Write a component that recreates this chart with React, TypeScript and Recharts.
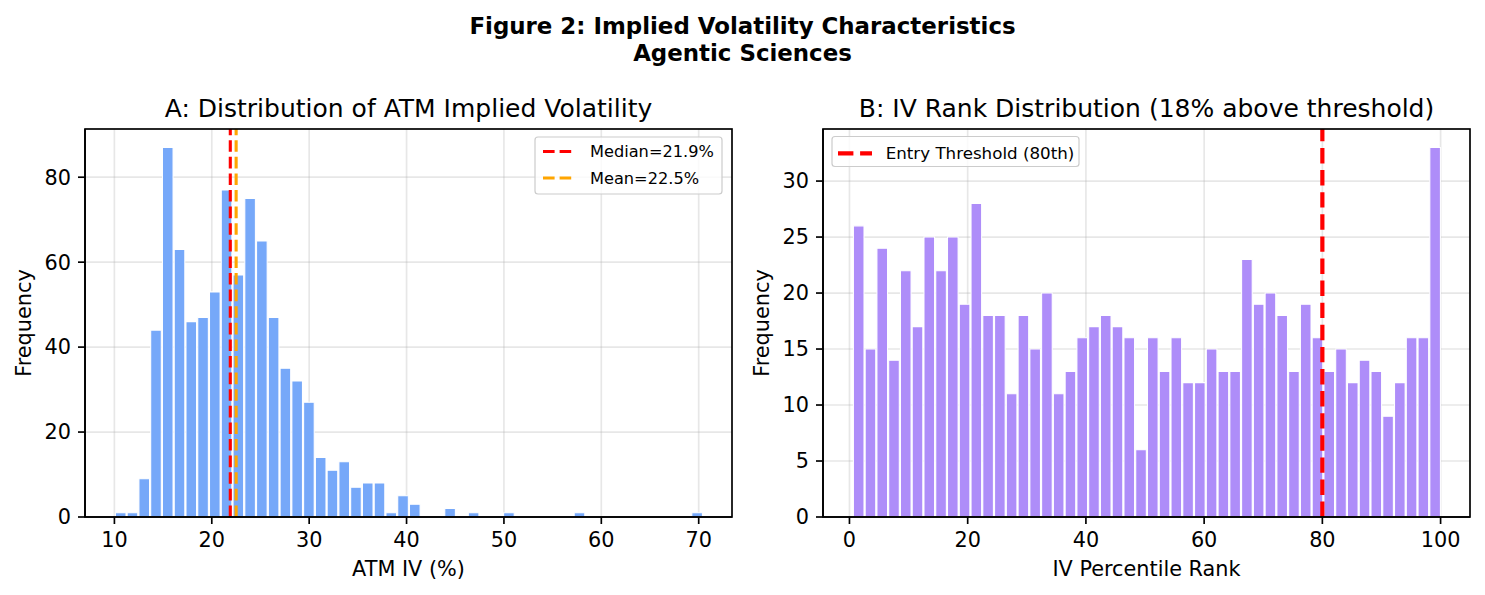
import React from 'react';
import { ComposedChart, Bar, XAxis, YAxis, CartesianGrid, ReferenceLine } from 'recharts';

// ---------- Panel A: ATM implied volatility histogram ----------
const ivBinStart = 10.0;
const ivBinWidth = 1.208;
const ivBinCounts = [
  1, 1, 9, 44, 87, 63, 46, 47, 53, 77,
  57, 75, 65, 47, 35, 32, 27, 14, 11, 13,
  7, 8, 8, 1, 5, 3, 0, 0, 2, 0,
  1, 0, 0, 1, 0, 0, 0, 0, 0, 1,
  0, 0, 0, 0, 0, 0, 0, 0, 0, 1,
];
const ivMedian = 21.9;
const ivMean = 22.5;
const ivXTicks = [10, 20, 30, 40, 50, 60, 70];
const ivYTicks = [0, 20, 40, 60, 80];
const ivXDomain: [number, number] = [6.98, 73.42];
const ivYDomain: [number, number] = [0, 91.35];

// ---------- Panel B: IV percentile rank histogram ----------
const rankBinStart = 0.5;
const rankBinWidth = 1.99;
const rankBinCounts = [
  26, 15, 24, 14, 22, 17, 25, 22, 25, 19,
  28, 18, 18, 11, 18, 15, 20, 11, 13, 16,
  17, 18, 17, 16, 6, 16, 13, 16, 12, 12,
  15, 13, 13, 23, 19, 20, 18, 13, 19, 16,
  13, 15, 12, 14, 13, 9, 12, 16, 16, 33,
];
const rankThreshold = 80;
const rankXTicks = [0, 20, 40, 60, 80, 100];
const rankYTicks = [0, 5, 10, 15, 20, 25, 30];
const rankXDomain: [number, number] = [-4.475, 104.975];
const rankYDomain: [number, number] = [0, 34.65];

const ivData = ivBinCounts.map((c, i) => ({ x: ivBinStart + (i + 0.5) * ivBinWidth, count: c }));
const rankData = rankBinCounts.map((c, i) => ({ x: rankBinStart + (i + 0.5) * rankBinWidth, count: c }));

// ---------- layout ----------
const FONT = 'DejaVu Sans';
const PLOT_W = 647;
const PLOT_TOP = 129;
const PLOT_BOTTOM = 517;
const PLOT_H = PLOT_BOTTOM - PLOT_TOP;
const H = 595;
const X_AXIS_H = 40;
const SPINE = { stroke: '#000', strokeWidth: 1.67 };
const TICK_STYLE = { fontSize: 20.8, fill: '#000', fontFamily: FONT };

type PanelProps = {
  data: { x: number; count: number }[];
  xDomain: [number, number];
  yDomain: [number, number];
  xTicks: number[];
  yTicks: number[];
  binWidth: number;
  fill: string;
  yAxisWidth: number;
  chartWidth: number;
  children?: React.ReactNode;
};

function Panel({ data, xDomain, yDomain, xTicks, yTicks, binWidth, fill, yAxisWidth, chartWidth, children }: PanelProps) {
  const barPx = (PLOT_W / (xDomain[1] - xDomain[0])) * binWidth;
  return (
    <ComposedChart
      width={chartWidth}
      height={H}
      data={data}
      margin={{ top: PLOT_TOP, left: 0, right: chartWidth - yAxisWidth - PLOT_W, bottom: H - PLOT_BOTTOM - X_AXIS_H }}
    >
      <CartesianGrid stroke="#b0b0b0" strokeOpacity={0.3} strokeWidth={1.67} />
      <XAxis
        dataKey="x"
        type="number"
        domain={xDomain}
        ticks={xTicks}
        allowDataOverflow
        height={X_AXIS_H}
        tickSize={7}
        tickMargin={8}
        tick={TICK_STYLE}
        tickLine={SPINE}
        axisLine={SPINE}
        interval={0}
      />
      <YAxis
        type="number"
        domain={yDomain}
        ticks={yTicks}
        allowDataOverflow
        width={yAxisWidth}
        tickSize={7}
        tickMargin={7}
        tick={TICK_STYLE}
        tickLine={SPINE}
        axisLine={SPINE}
        interval={0}
      />
      <Bar dataKey="count" fill={fill} stroke="#ffffff" strokeWidth={1.04} barSize={barPx} isAnimationActive={false} />
      {children}
    </ComposedChart>
  );
}

export default function App() {
  return (
    <div style={{ position: 'absolute', left: 0, top: 0, width: 1485, height: H, background: '#fff', fontFamily: FONT }}>
      <div style={{ position: 'absolute', left: 0, top: 0 }}>
        <Panel
          data={ivData}
          xDomain={ivXDomain}
          yDomain={ivYDomain}
          xTicks={ivXTicks}
          yTicks={ivYTicks}
          binWidth={ivBinWidth}
          fill="#76A8F9"
          yAxisWidth={85}
          chartWidth={760}
        >
          <ReferenceLine x={ivMedian} stroke="#ff0000" strokeWidth={3.1} strokeDasharray="11.6 5" />
          <ReferenceLine x={ivMean} stroke="#FFA500" strokeWidth={3.1} strokeDasharray="11.6 5" />
        </Panel>
      </div>
      <div style={{ position: 'absolute', left: 740, top: 0 }}>
        <Panel
          data={rankData}
          xDomain={rankXDomain}
          yDomain={rankYDomain}
          xTicks={rankXTicks}
          yTicks={rankYTicks}
          binWidth={rankBinWidth}
          fill="#AE8DF9"
          yAxisWidth={83}
          chartWidth={745}
        >
          <ReferenceLine x={rankThreshold} stroke="#ff0000" strokeWidth={4.2} strokeDasharray="15.4 6.7" />
        </Panel>
      </div>

      <svg width={1485} height={H} style={{ position: 'absolute', left: 0, top: 0, pointerEvents: 'none' }} fontFamily={FONT}>
        {/* axes frames (spines) */}
        <rect x={85} y={PLOT_TOP} width={PLOT_W} height={PLOT_H} fill="none" stroke="#000" strokeWidth={1.67} />
        <rect x={823} y={PLOT_TOP} width={PLOT_W} height={PLOT_H} fill="none" stroke="#000" strokeWidth={1.67} />

        <text x={742.5} y={33.5} textAnchor="middle" fontSize={22.9} fontWeight="bold" fill="#000">
          Figure 2: Implied Volatility Characteristics
        </text>
        <text x={742.5} y={60.5} textAnchor="middle" fontSize={22.9} fontWeight="bold" fill="#000">
          Agentic Sciences
        </text>

        <text x={408.5} y={117} textAnchor="middle" fontSize={25} fill="#000">
          A: Distribution of ATM Implied Volatility
        </text>
        <text x={1146.5} y={117} textAnchor="middle" fontSize={25} fill="#000">
          B: IV Rank Distribution (18% above threshold)
        </text>

        <text x={408.5} y={576} textAnchor="middle" fontSize={20.8} fill="#000">ATM IV (%)</text>
        <text x={1146.5} y={576} textAnchor="middle" fontSize={20.8} fill="#000">IV Percentile Rank</text>

        <text x={31} y={323} textAnchor="middle" fontSize={20.8} fill="#000" transform="rotate(-90 31 323)">Frequency</text>
        <text x={769} y={323} textAnchor="middle" fontSize={20.8} fill="#000" transform="rotate(-90 769 323)">Frequency</text>

        {/* Legend A */}
        <rect x={535} y={137} width={187} height={57} rx={3} fill="#fff" fillOpacity={0.8} stroke="#cccccc" strokeWidth={1.2} />
        <line x1={543} y1={151.5} x2={572} y2={151.5} stroke="#ff0000" strokeWidth={3.1} strokeDasharray="11.6 5" />
        <text x={590} y={151.5 + 0.36 * 16.2} fontSize={16.2} fill="#000">Median=21.9%</text>
        <line x1={543} y1={178} x2={572} y2={178} stroke="#FFA500" strokeWidth={3.1} strokeDasharray="11.6 5" />
        <text x={590} y={178 + 0.36 * 16.2} fontSize={16.2} fill="#000">Mean=22.5%</text>

        {/* Legend B */}
        <rect x={832} y={136.5} width={247} height={30} rx={3} fill="#fff" fillOpacity={0.8} stroke="#cccccc" strokeWidth={1.2} />
        <line x1={838} y1={153.3} x2={872} y2={153.3} stroke="#ff0000" strokeWidth={4.2} strokeDasharray="15.4 6.7" />
        <text x={885.7} y={153.3 + 0.36 * 16.7} fontSize={16.7} fill="#000">Entry Threshold (80th)</text>
      </svg>
    </div>
  );
}
